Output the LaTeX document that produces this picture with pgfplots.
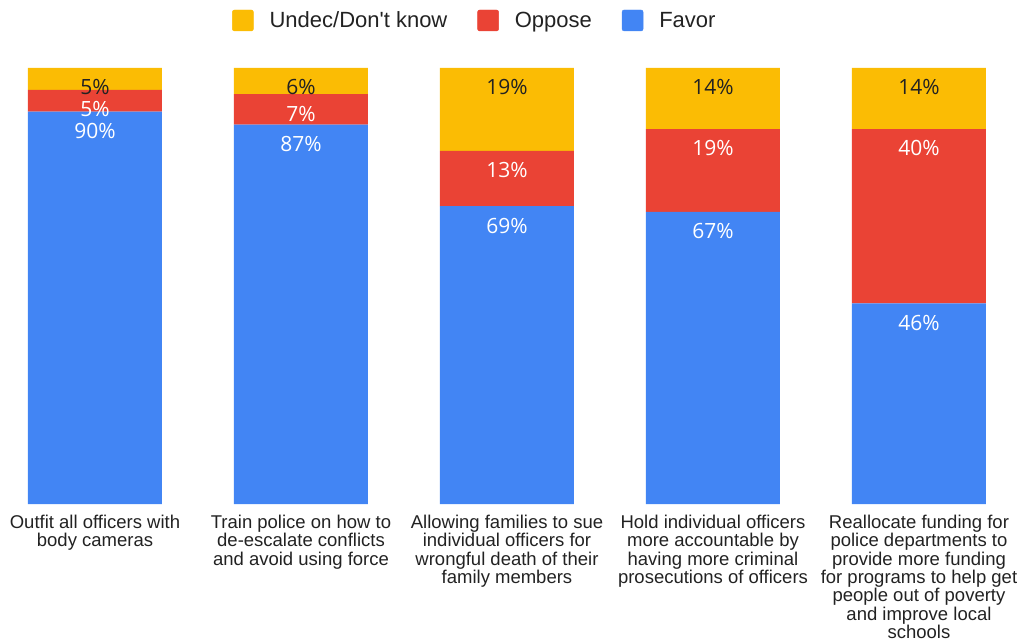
\documentclass[border=0pt]{standalone}
\usepackage{pgfplots}
\pgfplotsset{compat=1.18}
\usepackage{pgfplotstable}
\usepackage{fontspec}
\setmainfont{Liberation Sans}
\newfontfamily\catfont{Liberation Sans}
\newfontfamily\valfont{Open Sans}
\definecolor{cfav}{RGB}{66,133,244}
\definecolor{copp}{RGB}{234,67,53}
\definecolor{cund}{RGB}{251,188,4}
\definecolor{ctxt}{RGB}{34,34,34}

\pgfplotstableread{
x y lab
0 90 90
1 87 87
2 68.3 69
3 67 67
4 46 46
}\favtab
\pgfplotstableread{
x y lab
0 5 5
1 7 7
2 12.7 13
3 19 19
4 40 40
}\opptab
\pgfplotstableread{
x y lab
0 5 5
1 6 6
2 19 19
3 14 14
4 14 14
}\undtab

\begin{document}
\begin{tikzpicture}
\begin{axis}[
  scale only axis, width=1021.76pt, height=436pt,
  xmin=-0.46, xmax=4.5, ymin=0, ymax=100,
  ybar stacked, bar width=134pt,
  axis line style={draw=none}, major tick length=0pt,
  ytick=\empty, xtick={0,1,2,3,4},
  xticklabels={{Outfit all officers with\\body cameras},
               {Train police on how to\\de-escalate conflicts\\and avoid using force},
               {Allowing families to sue\\individual officers for\\wrongful death of their\\family members},
               {Hold individual officers\\more accountable by\\having more criminal\\prosecutions of officers},
               {Reallocate funding for\\police departments to\\provide more funding\\for programs to help get\\people out of poverty\\and improve local\\schools}},
  xticklabel style={align=center, inner sep=0pt, anchor=north, yshift=-11pt, text=ctxt,
                    font={\catfont\fontsize{18.5pt}{18.3pt}\selectfont\lineskiplimit=-50pt}},
  clip=false,
  point meta=explicit symbolic,
  visualization depends on={\thisrow{y} \as \rawy},
  nodes near coords={\pgfplotspointmeta\%},
  every node near coord/.append style={anchor=north, inner sep=0pt,
                    yshift={\rawy*2.18pt-11.5pt},
                    font={\valfont\fontsize{21pt}{24pt}\selectfont}},
  legend columns=3,
  legend style={at={(0.2268,1.109)}, anchor=west, draw=none, fill=none, inner sep=0pt,
                font={\fontsize{22pt}{25pt}\selectfont}, text=ctxt, nodes={inner sep=0pt},
                /tikz/every odd column/.append style={column sep=16pt},
                /tikz/every even column/.append style={column sep=30pt}},
]
\addplot[fill=cfav, draw=none, forget plot, every node near coord/.append style={text=white}]
  table[x=x, y=y, meta=lab]{\favtab};
\addplot[fill=copp, draw=none, forget plot, every node near coord/.append style={text=white}]
  table[x=x, y=y, meta=lab]{\opptab};
\addplot[fill=cund, draw=none, forget plot, every node near coord/.append style={text=ctxt}]
  table[x=x, y=y, meta=lab]{\undtab};
\addlegendimage{legend image code/.code={\fill[cund, rounded corners=2pt] (0pt,-10.5pt) rectangle (21pt,10.5pt);}}
\addlegendentry{Undec/Don\textquotesingle t know}
\addlegendimage{legend image code/.code={\fill[copp, rounded corners=2pt] (0pt,-10.5pt) rectangle (21pt,10.5pt);}}
\addlegendentry{Oppose}
\addlegendimage{legend image code/.code={\fill[cfav, rounded corners=2pt] (0pt,-10.5pt) rectangle (21pt,10.5pt);}}
\addlegendentry{Favor}
\end{axis}
\path (-0.24pt,-139pt) rectangle (1022.76pt,504pt);
\end{tikzpicture}
\end{document}
